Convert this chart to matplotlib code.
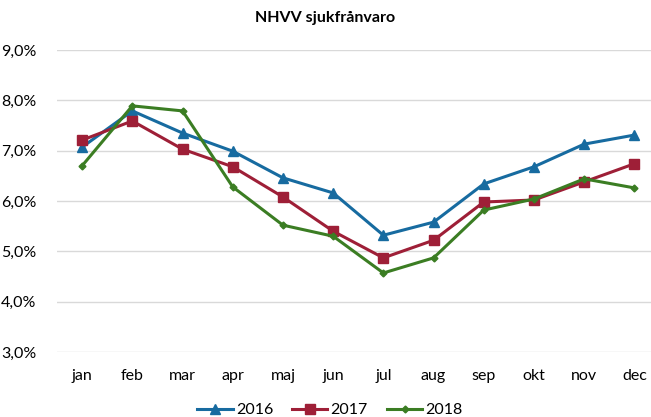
import matplotlib
matplotlib.use("Agg")
import matplotlib.pyplot as plt
from matplotlib.ticker import FuncFormatter

months = ["jan", "feb", "mar", "apr", "maj", "jun", "jul", "aug", "sep", "okt", "nov", "dec"]
s2016 = [7.07, 7.79, 7.35, 6.99, 6.46, 6.16, 5.32, 5.58, 6.34, 6.68, 7.13, 7.31]
s2017 = [7.21, 7.59, 7.03, 6.68, 6.08, 5.40, 4.87, 5.22, 5.98, 6.02, 6.38, 6.74]
s2018 = [6.70, 7.89, 7.79, 6.28, 5.52, 5.30, 4.57, 4.87, 5.82, 6.04, 6.44, 6.26]
yticks = [3, 4, 5, 6, 7, 8, 9]

plt.rcParams['font.family'] = ['Lato', 'DejaVu Sans']

fig = plt.figure(figsize=(6.51, 4.17), dpi=100)
ax = fig.add_axes([57/651, 1 - 352/417, 1 - 57/651, (352 - 50)/417])

x = list(range(len(months)))
ax.plot(x, s2016, color="#176ba0", lw=2.2, marker="^", ms=6.5, label="2016")
ax.plot(x, s2017, color="#9e1f37", lw=2.2, marker="s", ms=6.5, label="2017")
ax.plot(x, s2018, color="#3b7d23", lw=2.2, marker="D", ms=3.5, label="2018")

ax.set_xlim(-0.5, 11.33)
ax.set_ylim(3, 9)
ax.set_yticks(yticks)
ax.yaxis.set_major_formatter(FuncFormatter(lambda v, p: f"{v:.1f}%".replace(".", ",")))
ax.set_xticks(x)
ax.set_xticklabels(months)
ax.grid(axis="y", color="#d9d9d9", lw=1.0)
ax.set_axisbelow(True)
for sp in ax.spines.values():
    sp.set_visible(False)
ax.tick_params(axis="both", length=0, labelsize=11.5, colors="#000000")
ax.tick_params(axis="y", pad=15)
ax.tick_params(axis="x", pad=12)

fig.text(325/651, 1 - 18/417, "NHVV sjukfrånvaro", ha="center", va="center",
         fontsize=11.5, fontweight="bold")

ax.legend(loc="center", bbox_to_anchor=(330/651, 7/417), bbox_transform=fig.transFigure,
          ncol=3, frameon=False, fontsize=11.5, handlelength=2.2, columnspacing=1.2,
          handletextpad=0.2)

fig.savefig("out.png", dpi=100)
